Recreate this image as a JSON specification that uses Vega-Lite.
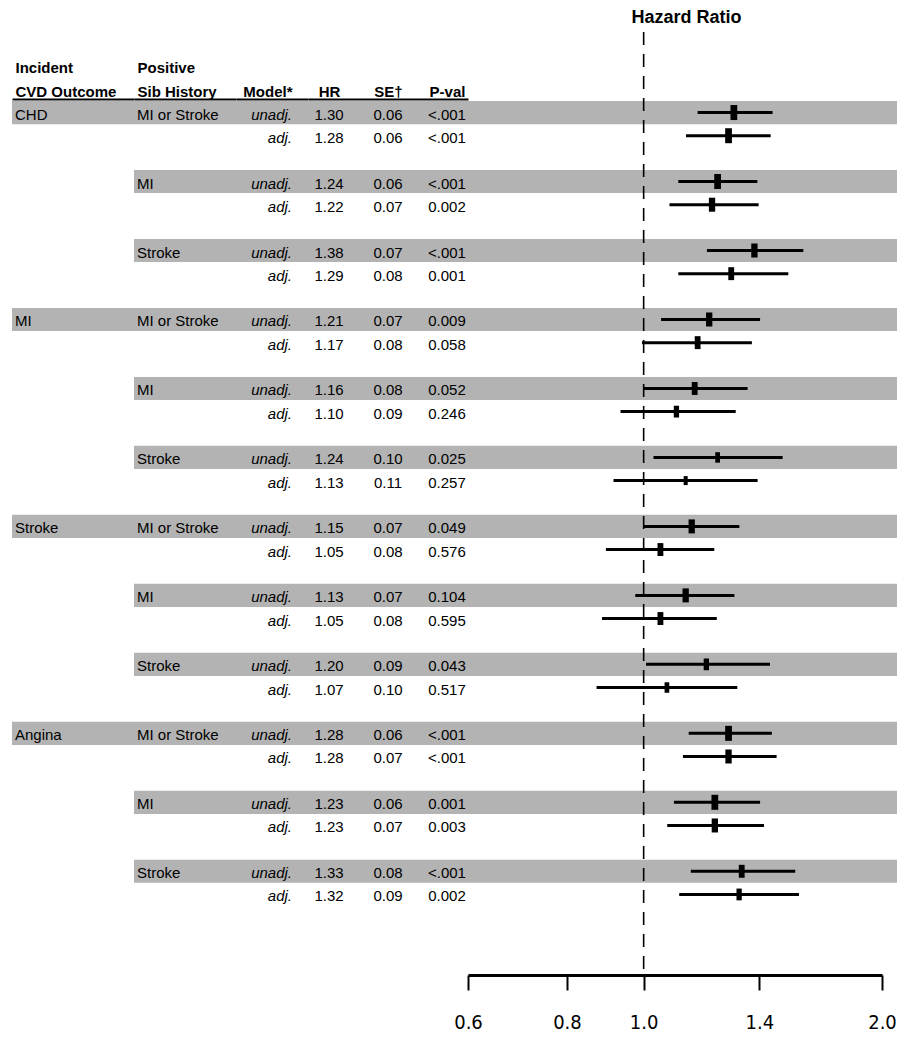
{
  "$schema": "https://vega.github.io/schema/vega-lite/v6.json",
  "background": "white",
  "padding": {"left": 12, "top": 9, "right": 0, "bottom": 0},
  "datasets": {
    "rows": [
      {"group": "CHD|MI or Stroke", "outcome": "CHD", "sib": "MI or Stroke", "model": "unadj.", "hr": 1.30, "se": 0.06, "p": "<.001", "lo": 1.170, "hi": 1.455},
      {"group": "CHD|MI or Stroke", "outcome": "CHD", "sib": "MI or Stroke", "model": "adj.", "hr": 1.28, "se": 0.06, "p": "<.001", "lo": 1.131, "hi": 1.447},
      {"group": "CHD|MI", "outcome": "CHD", "sib": "MI", "model": "unadj.", "hr": 1.24, "se": 0.06, "p": "<.001", "lo": 1.106, "hi": 1.392},
      {"group": "CHD|MI", "outcome": "CHD", "sib": "MI", "model": "adj.", "hr": 1.22, "se": 0.07, "p": "0.002", "lo": 1.078, "hi": 1.397},
      {"group": "CHD|Stroke", "outcome": "CHD", "sib": "Stroke", "model": "unadj.", "hr": 1.38, "se": 0.07, "p": "<.001", "lo": 1.202, "hi": 1.591},
      {"group": "CHD|Stroke", "outcome": "CHD", "sib": "Stroke", "model": "adj.", "hr": 1.29, "se": 0.08, "p": "0.001", "lo": 1.106, "hi": 1.523},
      {"group": "MI|MI or Stroke", "outcome": "MI", "sib": "MI or Stroke", "model": "unadj.", "hr": 1.21, "se": 0.07, "p": "0.009", "lo": 1.052, "hi": 1.403},
      {"group": "MI|MI or Stroke", "outcome": "MI", "sib": "MI or Stroke", "model": "adj.", "hr": 1.17, "se": 0.08, "p": "0.058", "lo": 0.995, "hi": 1.370},
      {"group": "MI|MI", "outcome": "MI", "sib": "MI", "model": "unadj.", "hr": 1.16, "se": 0.08, "p": "0.052", "lo": 0.999, "hi": 1.353},
      {"group": "MI|MI", "outcome": "MI", "sib": "MI", "model": "adj.", "hr": 1.10, "se": 0.09, "p": "0.246", "lo": 0.935, "hi": 1.307},
      {"group": "MI|Stroke", "outcome": "MI", "sib": "Stroke", "model": "unadj.", "hr": 1.24, "se": 0.10, "p": "0.025", "lo": 1.029, "hi": 1.498},
      {"group": "MI|Stroke", "outcome": "MI", "sib": "Stroke", "model": "adj.", "hr": 1.13, "se": 0.11, "p": "0.257", "lo": 0.916, "hi": 1.393},
      {"group": "Stroke|MI or Stroke", "outcome": "Stroke", "sib": "MI or Stroke", "model": "unadj.", "hr": 1.15, "se": 0.07, "p": "0.049", "lo": 1.000, "hi": 1.321},
      {"group": "Stroke|MI or Stroke", "outcome": "Stroke", "sib": "MI or Stroke", "model": "adj.", "hr": 1.05, "se": 0.08, "p": "0.576", "lo": 0.896, "hi": 1.228},
      {"group": "Stroke|MI", "outcome": "Stroke", "sib": "MI", "model": "unadj.", "hr": 1.13, "se": 0.07, "p": "0.104", "lo": 0.976, "hi": 1.302},
      {"group": "Stroke|MI", "outcome": "Stroke", "sib": "MI", "model": "adj.", "hr": 1.05, "se": 0.08, "p": "0.595", "lo": 0.886, "hi": 1.237},
      {"group": "Stroke|Stroke", "outcome": "Stroke", "sib": "Stroke", "model": "unadj.", "hr": 1.20, "se": 0.09, "p": "0.043", "lo": 1.007, "hi": 1.444},
      {"group": "Stroke|Stroke", "outcome": "Stroke", "sib": "Stroke", "model": "adj.", "hr": 1.07, "se": 0.10, "p": "0.517", "lo": 0.872, "hi": 1.313},
      {"group": "Angina|MI or Stroke", "outcome": "Angina", "sib": "MI or Stroke", "model": "unadj.", "hr": 1.28, "se": 0.06, "p": "<.001", "lo": 1.140, "hi": 1.452},
      {"group": "Angina|MI or Stroke", "outcome": "Angina", "sib": "MI or Stroke", "model": "adj.", "hr": 1.28, "se": 0.07, "p": "<.001", "lo": 1.121, "hi": 1.472},
      {"group": "Angina|MI", "outcome": "Angina", "sib": "MI", "model": "unadj.", "hr": 1.23, "se": 0.06, "p": "0.001", "lo": 1.092, "hi": 1.403},
      {"group": "Angina|MI", "outcome": "Angina", "sib": "MI", "model": "adj.", "hr": 1.23, "se": 0.07, "p": "0.003", "lo": 1.071, "hi": 1.419},
      {"group": "Angina|Stroke", "outcome": "Angina", "sib": "Stroke", "model": "unadj.", "hr": 1.33, "se": 0.08, "p": "<.001", "lo": 1.147, "hi": 1.554},
      {"group": "Angina|Stroke", "outcome": "Angina", "sib": "Stroke", "model": "adj.", "hr": 1.32, "se": 0.09, "p": "0.002", "lo": 1.109, "hi": 1.571}
    ]
  },
  "data": {"name": "rows"},
  "spacing": 0,
  "bounds": "flush",
  "config": {
    "view": {"stroke": null},
    "font": "Liberation Sans",
    "axis": {"grid": false}
  },
  "hconcat": [
    {
      "width": 122,
      "height": 943,
      "transform": [{"filter": "datum.model == 'unadj.' && datum.sib == 'MI or Stroke'"}],
      "encoding": {
        "y": {"field": "group", "type": "nominal", "axis": null, "scale": {"type": "band", "paddingInner": 0.3285, "paddingOuter": 1.0, "domain": ["CHD|MI or Stroke", "CHD|MI", "CHD|Stroke", "MI|MI or Stroke", "MI|MI", "MI|Stroke", "Stroke|MI or Stroke", "Stroke|MI", "Stroke|Stroke", "Angina|MI or Stroke", "Angina|MI", "Angina|Stroke"]}},
        "yOffset": {"field": "model", "type": "nominal", "scale": {"domain": ["unadj.", "adj."], "paddingInner": 0, "paddingOuter": 0}}
      },
      "layer": [
        {"mark": {"type": "rect", "color": "#b3b3b3"}},
        {
          "mark": {"type": "text", "align": "left", "baseline": "middle", "dy": 2, "fontSize": 15, "color": "black"},
          "encoding": {
            "x": {"datum": "Incident|CVD Outcome", "type": "nominal", "scale": {"type": "point", "padding": 0, "align": 0.0246},
              "axis": {"orient": "top", "offset": -67, "title": null, "ticks": false, "tickSize": 0, "domain": true, "domainColor": "black", "domainWidth": 2, "labelExpr": "split(datum.label, '|')", "labelAlign": "left", "labelBaseline": "bottom", "labelAngle": 0, "labelPadding": 24, "labelLineHeight": 24, "labelFontSize": 15, "labelFontWeight": "bold", "labelColor": "black", "labelFont": "Liberation Sans"}},
            "text": {"field": "outcome"}
          }
        }
      ]
    },
    {
      "width": 102,
      "height": 943,
      "transform": [{"filter": "datum.model == 'unadj.'"}],
      "encoding": {
        "y": {"field": "group", "type": "nominal", "axis": null, "scale": {"type": "band", "paddingInner": 0.3285, "paddingOuter": 1.0, "domain": ["CHD|MI or Stroke", "CHD|MI", "CHD|Stroke", "MI|MI or Stroke", "MI|MI", "MI|Stroke", "Stroke|MI or Stroke", "Stroke|MI", "Stroke|Stroke", "Angina|MI or Stroke", "Angina|MI", "Angina|Stroke"]}},
        "yOffset": {"field": "model", "type": "nominal", "scale": {"domain": ["unadj.", "adj."], "paddingInner": 0, "paddingOuter": 0}}
      },
      "layer": [
        {"mark": {"type": "rect", "color": "#b3b3b3"}},
        {
          "mark": {"type": "text", "align": "left", "baseline": "middle", "dy": 2, "fontSize": 15, "color": "black"},
          "encoding": {
            "x": {"datum": "Positive|Sib History", "type": "nominal", "scale": {"type": "point", "padding": 0, "align": 0.0294},
              "axis": {"orient": "top", "offset": -67, "title": null, "ticks": false, "tickSize": 0, "domain": true, "domainColor": "black", "domainWidth": 2, "labelExpr": "split(datum.label, '|')", "labelAlign": "left", "labelBaseline": "bottom", "labelAngle": 0, "labelPadding": 24, "labelLineHeight": 24, "labelFontSize": 15, "labelFontWeight": "bold", "labelColor": "black", "labelFont": "Liberation Sans"}},
            "text": {"field": "sib"}
          }
        }
      ]
    },
    {
      "width": 72,
      "height": 943,
      "encoding": {
        "y": {"field": "group", "type": "nominal", "axis": null, "scale": {"type": "band", "paddingInner": 0.3285, "paddingOuter": 1.0, "domain": ["CHD|MI or Stroke", "CHD|MI", "CHD|Stroke", "MI|MI or Stroke", "MI|MI", "MI|Stroke", "Stroke|MI or Stroke", "Stroke|MI", "Stroke|Stroke", "Angina|MI or Stroke", "Angina|MI", "Angina|Stroke"]}},
        "yOffset": {"field": "model", "type": "nominal", "scale": {"domain": ["unadj.", "adj."], "paddingInner": 0, "paddingOuter": 0}}
      },
      "layer": [
        {"transform": [{"filter": "datum.model == 'unadj.'"}], "mark": {"type": "rect", "color": "#b3b3b3"}},
        {
          "mark": {"type": "text", "align": "right", "baseline": "middle", "dy": 2, "fontSize": 15, "fontStyle": "italic", "color": "black"},
          "encoding": {
            "x": {"datum": "Model*", "type": "nominal", "scale": {"type": "point", "padding": 0, "align": 0.778},
              "axis": {"orient": "top", "offset": -67, "title": null, "ticks": false, "tickSize": 0, "domain": true, "domainColor": "black", "domainWidth": 2, "labelAlign": "right", "labelBaseline": "bottom", "labelAngle": 0, "labelPadding": 0, "labelFontSize": 15, "labelFontWeight": "bold", "labelColor": "black", "labelFont": "Liberation Sans"}},
            "text": {"field": "model"}
          }
        }
      ]
    },
    {
      "width": 160,
      "height": 943,
      "encoding": {
        "y": {"field": "group", "type": "nominal", "axis": null, "scale": {"type": "band", "paddingInner": 0.3285, "paddingOuter": 1.0, "domain": ["CHD|MI or Stroke", "CHD|MI", "CHD|Stroke", "MI|MI or Stroke", "MI|MI", "MI|Stroke", "Stroke|MI or Stroke", "Stroke|MI", "Stroke|Stroke", "Angina|MI or Stroke", "Angina|MI", "Angina|Stroke"]}},
        "yOffset": {"field": "model", "type": "nominal", "scale": {"domain": ["unadj.", "adj."], "paddingInner": 0, "paddingOuter": 0}}
      },
      "layer": [
        {"transform": [{"filter": "datum.model == 'unadj.'"}], "mark": {"type": "rect", "color": "#b3b3b3"}},
        {
          "mark": {"type": "text", "align": "center", "baseline": "middle", "dy": 2, "fontSize": 15, "color": "black"},
          "encoding": {
            "x": {"datum": "HR", "type": "nominal", "scale": {"type": "point", "padding": 0.356, "align": 0.5, "domain": ["HR", "SE†", "P-val"]},
              "axis": {"orient": "top", "offset": -67, "title": null, "ticks": false, "tickSize": 0, "domain": true, "domainColor": "black", "domainWidth": 2, "labelAlign": "center", "labelBaseline": "bottom", "labelAngle": 0, "labelPadding": 0, "labelFontSize": 15, "labelFontWeight": "bold", "labelColor": "black", "labelFont": "Liberation Sans"}},
            "text": {"field": "hr", "type": "quantitative", "format": ".2f"}
          }
        },
        {
          "mark": {"type": "text", "align": "center", "baseline": "middle", "dy": 2, "fontSize": 15, "color": "black"},
          "encoding": {
            "x": {"datum": "SE†", "type": "nominal"},
            "text": {"field": "se", "type": "quantitative", "format": ".2f"}
          }
        },
        {
          "mark": {"type": "text", "align": "center", "baseline": "middle", "dy": 2, "fontSize": 15, "color": "black"},
          "encoding": {
            "x": {"datum": "P-val", "type": "nominal"},
            "text": {"field": "p"}
          }
        }
      ]
    },
    {
      "width": 429,
      "height": 943,
      "title": {"text": "Hazard Ratio", "fontSize": 18, "fontWeight": "bold", "font": "Liberation Sans", "color": "black", "anchor": "middle", "offset": 4, "dx": 4},
      "layer": [
        {
          "transform": [{"filter": "datum.model == 'unadj.'"}],
          "mark": {"type": "rect", "color": "#b3b3b3"},
          "encoding": {
            "y": {"field": "group", "type": "nominal", "axis": null, "scale": {"type": "band", "paddingInner": 0.3285, "paddingOuter": 1.0, "domain": ["CHD|MI or Stroke", "CHD|MI", "CHD|Stroke", "MI|MI or Stroke", "MI|MI", "MI|Stroke", "Stroke|MI or Stroke", "Stroke|MI", "Stroke|Stroke", "Angina|MI or Stroke", "Angina|MI", "Angina|Stroke"]}},
            "yOffset": {"field": "model", "type": "nominal", "scale": {"domain": ["unadj.", "adj."], "paddingInner": 0, "paddingOuter": 0}}
          }
        },
        {
          "data": {"values": [{"reference": 1}]},
          "mark": {"type": "rule", "strokeDash": [13, 9], "strokeWidth": 1.6, "color": "black"},
          "encoding": {
            "x": {"field": "reference", "type": "quantitative", "scale": {"type": "log", "domain": [0.6, 2.0], "range": [0, 414], "nice": false},
              "axis": {"orient": "bottom", "values": [0.6, 0.8, 1.0, 1.4, 2.0], "format": ".1f", "title": null, "grid": false, "domainColor": "black", "domainWidth": 3, "tickColor": "black", "tickWidth": 2, "tickSize": 15, "labelFont": "'Liberation Sans Narrow', 'DejaVu Sans Condensed', 'Liberation Sans', sans-serif", "labelFontSize": 20, "labelColor": "black", "labelPadding": 22, "labelBaseline": "top", "labelFlush": false, "labelOverlap": false}}
          }
        },
        {
          "mark": {"type": "rule", "strokeWidth": 3, "color": "black"},
          "encoding": {
            "y": {"field": "group", "type": "nominal", "axis": null, "scale": {"type": "band", "paddingInner": 0.3285, "paddingOuter": 1.0, "domain": ["CHD|MI or Stroke", "CHD|MI", "CHD|Stroke", "MI|MI or Stroke", "MI|MI", "MI|Stroke", "Stroke|MI or Stroke", "Stroke|MI", "Stroke|Stroke", "Angina|MI or Stroke", "Angina|MI", "Angina|Stroke"]}},
            "yOffset": {"field": "model", "type": "nominal", "scale": {"domain": ["unadj.", "adj."], "paddingInner": 0, "paddingOuter": 0}},
            "x": {"field": "lo", "type": "quantitative", "scale": {"type": "log", "domain": [0.6, 2.0], "range": [0, 414], "nice": false},
              "axis": {"orient": "bottom", "values": [0.6, 0.8, 1.0, 1.4, 2.0], "format": ".1f", "title": null, "grid": false, "domainColor": "black", "domainWidth": 3, "tickColor": "black", "tickWidth": 2, "tickSize": 15, "labelFont": "'Liberation Sans Narrow', 'DejaVu Sans Condensed', 'Liberation Sans', sans-serif", "labelFontSize": 20, "labelColor": "black", "labelPadding": 22, "labelBaseline": "top", "labelFlush": false, "labelOverlap": false}},
            "x2": {"field": "hi"}
          }
        },
        {
          "mark": {"type": "point", "shape": "M-0.45,-1L0.45,-1L0.45,1L-0.45,1Z", "filled": true, "color": "black", "opacity": 1, "strokeWidth": 0},
          "encoding": {
            "y": {"field": "group", "type": "nominal", "axis": null, "scale": {"type": "band", "paddingInner": 0.3285, "paddingOuter": 1.0, "domain": ["CHD|MI or Stroke", "CHD|MI", "CHD|Stroke", "MI|MI or Stroke", "MI|MI", "MI|Stroke", "Stroke|MI or Stroke", "Stroke|MI", "Stroke|Stroke", "Angina|MI or Stroke", "Angina|MI", "Angina|Stroke"]}},
            "yOffset": {"field": "model", "type": "nominal", "scale": {"domain": ["unadj.", "adj."], "paddingInner": 0, "paddingOuter": 0}},
            "x": {"field": "hr", "type": "quantitative", "scale": {"type": "log", "domain": [0.6, 2.0], "range": [0, 414], "nice": false},
              "axis": {"orient": "bottom", "values": [0.6, 0.8, 1.0, 1.4, 2.0], "format": ".1f", "title": null, "grid": false, "domainColor": "black", "domainWidth": 3, "tickColor": "black", "tickWidth": 2, "tickSize": 15, "labelFont": "'Liberation Sans Narrow', 'DejaVu Sans Condensed', 'Liberation Sans', sans-serif", "labelFontSize": 20, "labelColor": "black", "labelPadding": 22, "labelBaseline": "top", "labelFlush": false, "labelOverlap": false}},
            "size": {"field": "se", "type": "quantitative", "scale": {"domain": [0.06, 0.11], "range": [225, 81], "zero": false}, "legend": null}
          }
        }
      ]
    }
  ]
}
